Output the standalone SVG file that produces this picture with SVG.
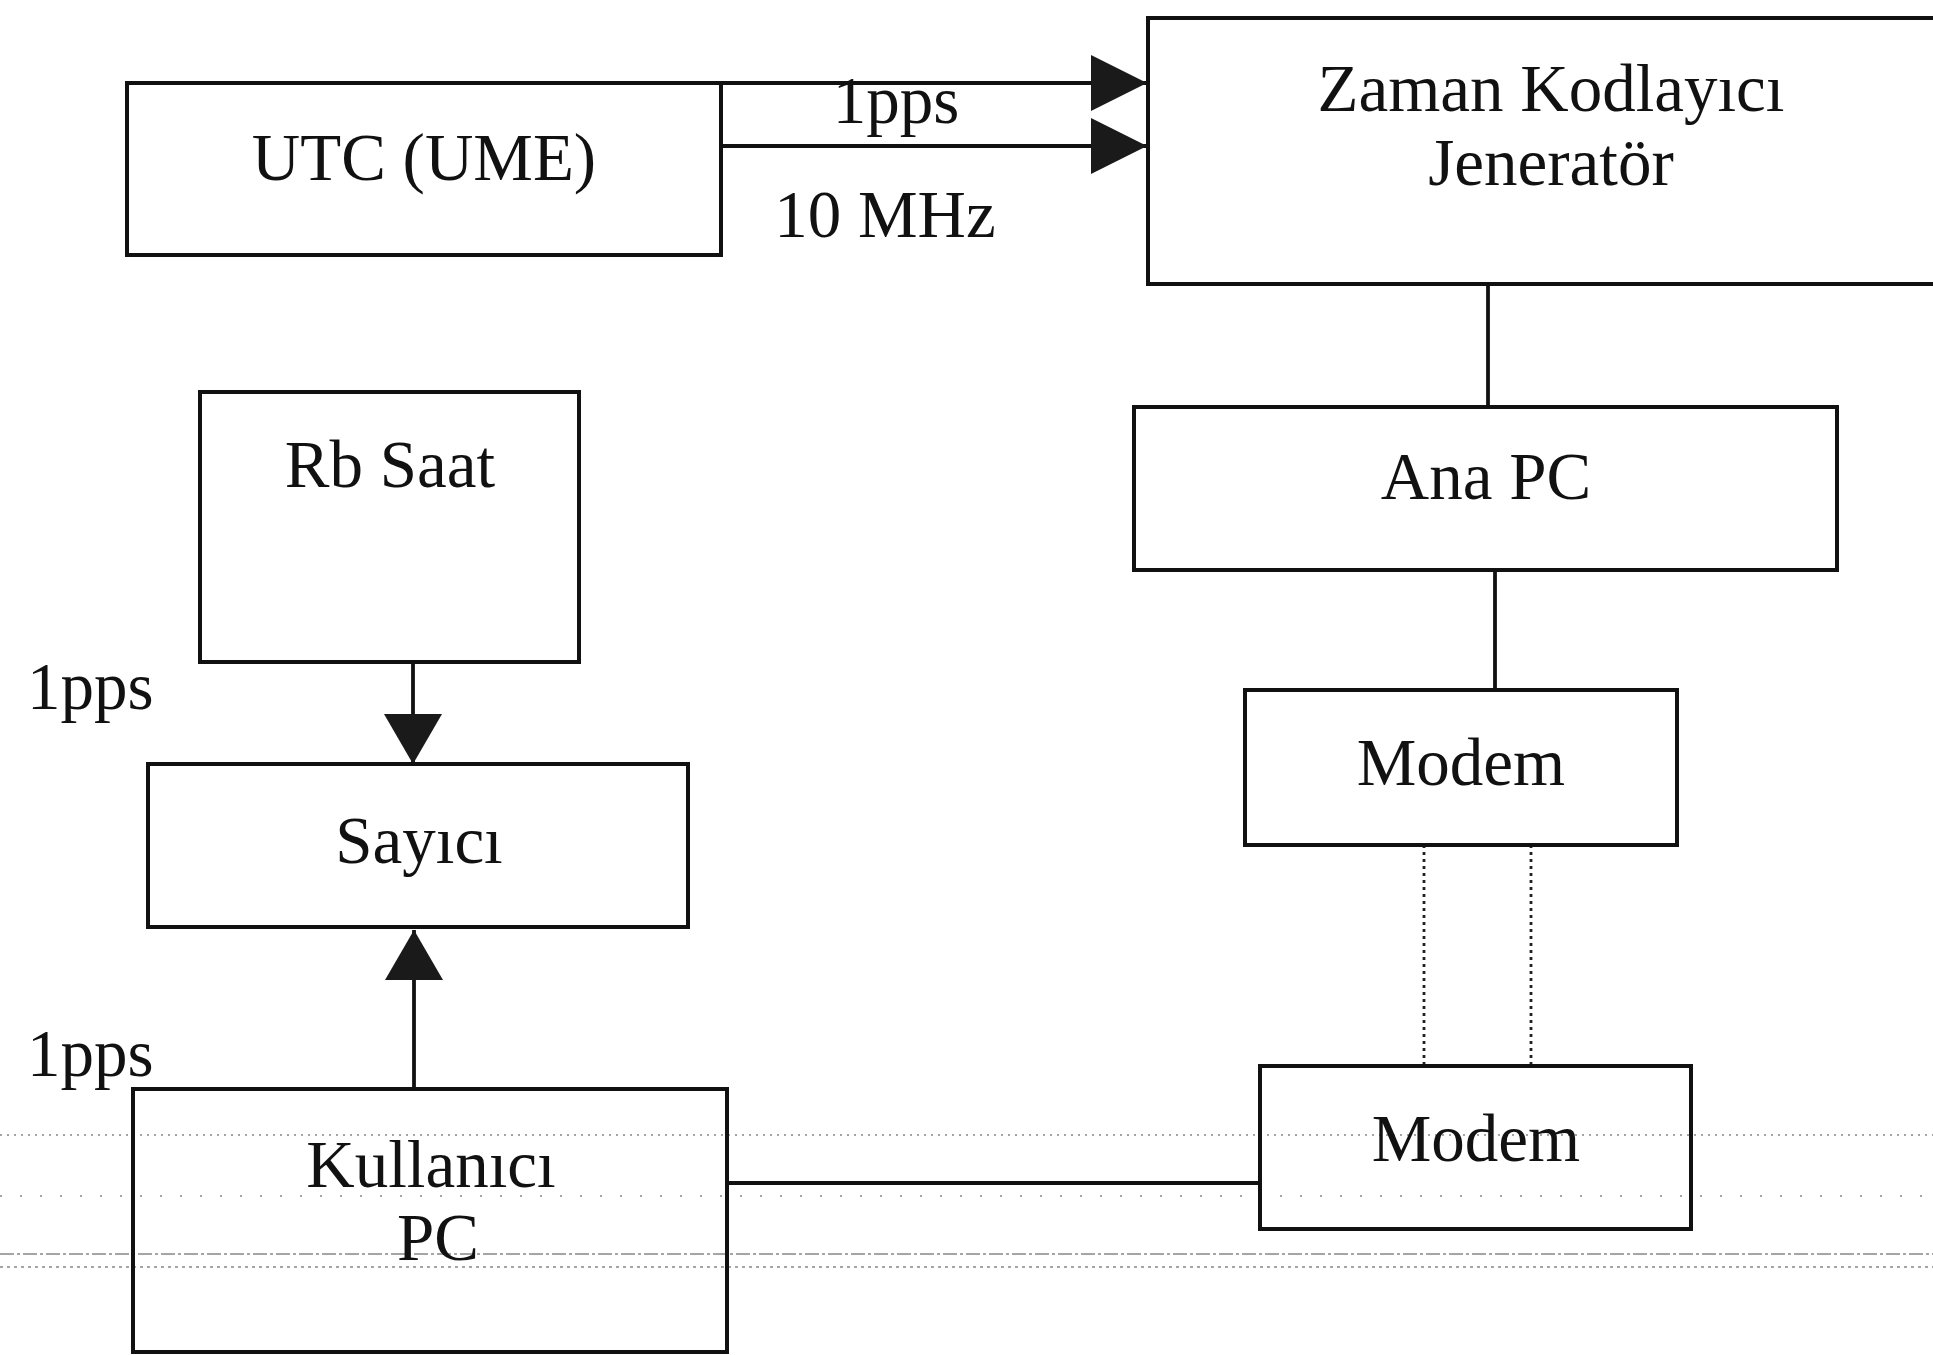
<svg xmlns="http://www.w3.org/2000/svg" width="1933" height="1355" viewBox="0 0 1933 1355">
<style>
.box{fill:none;stroke:#111;stroke-width:4}
.lbl{font-family:"Liberation Serif","Times New Roman",serif;font-size:67px;fill:#111}
.c{text-anchor:middle}
.wire{fill:none;stroke:#111;stroke-width:3.8}
.dot{fill:none;stroke:#222;stroke-width:2.8;stroke-dasharray:3 4}
.scan{fill:none;stroke:#888;stroke-width:1.6}
</style>
<defs>
<marker id="ah" markerUnits="userSpaceOnUse" markerWidth="56" markerHeight="56" viewBox="0 0 56 56" refX="56" refY="28" orient="auto">
<path d="M0,0 L56,28 L0,56 z" fill="#1a1a1a"/>
</marker>
<marker id="ahs" markerUnits="userSpaceOnUse" markerWidth="50" markerHeight="58" viewBox="0 0 50 58" refX="50" refY="29" orient="auto">
<path d="M0,0 L50,29 L0,58 z" fill="#1a1a1a"/>
</marker>
</defs>
<rect width="1933" height="1355" fill="#fff"/>
<g id="scanlines">
<line class="scan" x1="0" y1="1135" x2="1933" y2="1135" stroke-dasharray="2 5"/>
<line class="scan" x1="0" y1="1196" x2="1933" y2="1196" stroke-dasharray="2 18"/>
<line class="scan" x1="0" y1="1254" x2="1933" y2="1254" stroke-dasharray="14 3 3 3"/>
<line class="scan" x1="0" y1="1267" x2="1933" y2="1267" stroke-dasharray="3 4"/>
</g>
<g id="connectors">
<line class="wire" x1="721" y1="83" x2="1147" y2="83" marker-end="url(#ah)"/>
<line class="wire" x1="721" y1="146" x2="1147" y2="146" marker-end="url(#ah)"/>
<line class="wire" x1="1488" y1="284" x2="1488" y2="407"/>
<line class="wire" x1="1495" y1="570" x2="1495" y2="690"/>
<line class="dot" x1="1424" y1="845" x2="1424" y2="1066"/>
<line class="dot" x1="1531" y1="845" x2="1531" y2="1066"/>
<line class="wire" x1="727" y1="1183" x2="1260" y2="1183"/>
<line class="wire" x1="413" y1="662" x2="413" y2="764" marker-end="url(#ahs)"/>
<line class="wire" x1="414" y1="1089" x2="414" y2="930" marker-end="url(#ahs)"/>
<text class="lbl c" x="896" y="123">1pps</text>
<text class="lbl c" x="885" y="237">10 MHz</text>
<text class="lbl" x="27" y="709">1pps</text>
<text class="lbl" x="27" y="1076">1pps</text>
</g>
<g id="utc">
<rect class="box" x="127" y="83" width="594" height="172"/>
<text class="lbl c" x="424" y="180">UTC (UME)</text>
</g>
<g id="zaman">
<rect class="box" x="1148" y="18" width="800" height="266"/>
<text class="lbl c" x="1551" y="111">Zaman Kodlayıcı</text>
<text class="lbl c" x="1551" y="185">Jeneratör</text>
</g>
<g id="anapc">
<rect class="box" x="1134" y="407" width="703" height="163"/>
<text class="lbl c" x="1486" y="499">Ana PC</text>
</g>
<g id="modem1">
<rect class="box" x="1245" y="690" width="432" height="155"/>
<text class="lbl c" x="1461" y="785">Modem</text>
</g>
<g id="modem2">
<rect class="box" x="1260" y="1066" width="431" height="163"/>
<text class="lbl c" x="1476" y="1161">Modem</text>
</g>
<g id="rbsaat">
<rect class="box" x="200" y="392" width="379" height="270"/>
<text class="lbl c" x="390" y="487">Rb Saat</text>
</g>
<g id="sayici">
<rect class="box" x="148" y="764" width="540" height="163"/>
<text class="lbl c" x="419" y="863">Sayıcı</text>
</g>
<g id="kullanici">
<rect class="box" x="133" y="1089" width="594" height="263"/>
<text class="lbl c" x="431" y="1187">Kullanıcı</text>
<text class="lbl c" x="438" y="1260">PC</text>
</g>
</svg>
